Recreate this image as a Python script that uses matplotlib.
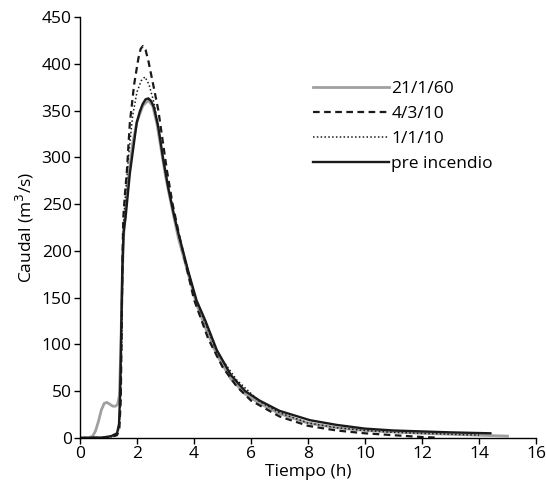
import matplotlib
matplotlib.use("Agg")
import matplotlib.pyplot as plt

plt.rcParams['font.family'] = ['Open Sans', 'DejaVu Sans']

# 21/1/60 (gray)
t_2160 = [0, 0.3, 0.45, 0.55, 0.65, 0.75, 0.85, 0.95, 1.05, 1.15, 1.25, 1.32, 1.38, 1.43, 1.48, 1.53, 1.6, 1.7, 1.85, 2.0, 2.2, 2.4, 2.55, 2.7, 2.85, 3.0, 3.2, 3.45, 3.8, 4.09, 4.4, 4.8, 5.3, 5.8, 6.3, 7.0, 8.0, 9.0, 10.0, 12.0, 14.0, 15.0]
q_2160 = [0, 0.3, 2, 8, 18, 30, 37, 38, 36, 34, 34, 36, 45, 90, 170, 215, 245, 278, 315, 338, 355, 361, 355, 336, 308, 280, 250, 214, 175, 143, 118, 89, 63, 47, 37, 26, 16, 11, 8, 5, 3, 2]

# 4/3/10 (dashed)
t_4310 = [0, 1.0, 1.3, 1.38, 1.43, 1.46, 1.49, 1.52, 1.58, 1.64, 1.75, 1.9, 2.05, 2.13, 2.21, 2.3, 2.4, 2.5, 2.62, 2.75, 2.9, 3.05, 3.25, 3.5, 4.0, 4.5, 5.0, 5.5, 6.0, 7.0, 8.0, 9.0, 10.0, 11.0, 12.0, 12.45]
q_4310 = [0, 0.5, 3, 10, 40, 110, 190, 236, 262, 283, 337, 378, 406, 416, 419, 415, 403, 388, 370, 350, 318, 286, 250, 214, 148, 106, 76, 55, 40, 23, 13, 8, 5, 3, 1, 0.5]

# 1/1/10 (dotted)
t_1110 = [0, 1.0, 1.3, 1.38, 1.43, 1.47, 1.5, 1.54, 1.6, 1.7, 1.85, 2.0, 2.15, 2.28, 2.42, 2.6, 2.75, 2.9, 3.1, 3.45, 4.09, 4.8, 5.5, 6.3, 7.0, 8.0, 9.0, 10.0, 11.0, 12.0, 13.0, 14.0]
q_1110 = [0, 0.5, 3, 12, 45, 115, 185, 236, 262, 300, 345, 370, 382, 386, 378, 358, 332, 302, 268, 219, 146, 92, 62, 39, 27, 16, 11, 8, 6, 5, 4, 3]

# pre incendio (black solid)
t_pre = [0, 0.8, 1.1, 1.3, 1.37, 1.41, 1.45, 1.49, 1.53, 1.6, 1.75, 1.99, 2.1, 2.2, 2.3, 2.4, 2.5, 2.6, 2.75, 2.92, 3.1, 3.3, 3.45, 3.8, 4.09, 4.39, 4.8, 5.3, 5.8, 6.3, 7.0, 8.07, 9.0, 10.0, 11.0, 12.0, 13.0, 14.4]
q_pre = [0, 0.5, 2, 5, 15, 50, 120, 185, 220, 236, 283, 337, 349, 357, 362, 363, 360, 353, 332, 298, 267, 238, 219, 178, 147, 126, 94, 67, 50, 40, 29, 19, 14, 10, 8, 7, 6, 5]

x_ticks = [0, 2, 4, 6, 8, 10, 12, 14, 16]
y_ticks = [0, 50, 100, 150, 200, 250, 300, 350, 400, 450]

fig = plt.figure(figsize=(5.46, 4.93), dpi=100)
ax = fig.add_axes([0.1465, 0.1116, 0.8352, 0.8539])

ax.plot(t_2160, q_2160, color='#a0a0a0', lw=2.0, label='21/1/60', solid_joinstyle='round')
ax.plot(t_4310, q_4310, color='#1a1a1a', lw=1.6, ls=(0, (3, 2)), label='4/3/10')
ax.plot(t_1110, q_1110, color='#1a1a1a', lw=1.1, ls=(0, (1, 1.5)), label='1/1/10')
ax.plot(t_pre, q_pre, color='#1a1a1a', lw=1.7, label='pre incendio', solid_joinstyle='round')

ax.set_xlim(0, 16)
ax.set_ylim(0, 450)
ax.set_xticks(x_ticks)
ax.set_yticks(y_ticks)
ax.tick_params(direction='out', length=4, width=1, labelsize=12.5, pad=2)
for s in ['top', 'right']:
    ax.spines[s].set_visible(False)
for s in ['left', 'bottom']:
    ax.spines[s].set_linewidth(1.0)

ax.set_xlabel('Tiempo (h)', fontsize=12.5, labelpad=1)
ax.set_ylabel('Caudal (m$^3$/s)', fontsize=12.5, labelpad=4)

ax.legend(loc='upper left', bbox_to_anchor=(0.492, 0.868), frameon=False, fontsize=12.5,
          handlelength=4.4, handletextpad=0.1, labelspacing=0.5, borderpad=0)

fig.savefig('out.png', dpi=100)
